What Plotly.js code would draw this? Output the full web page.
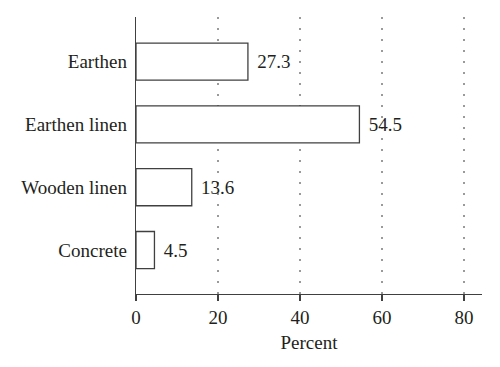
<!DOCTYPE html>
<html>
<head>
<meta charset="utf-8">
<script src="https://cdn.plot.ly/plotly-3.0.1.min.js"></script>
<style>html,body{margin:0;padding:0;background:#fff;}#chart{width:500px;height:367px;}</style>
</head>
<body>
<div id="chart"></div>
<script>
var categories = ["Concrete", "Wooden linen", "Earthen linen", "Earthen"];
var percents = [4.5, 13.6, 54.5, 27.3];
var valueLabels = ["4.5", "13.6", "54.5", "27.3"];
var xTicks = [0, 20, 40, 60, 80];

var font = {family: "Liberation Serif, DejaVu Serif, serif", size: 19, color: "#231f20"};

var trace = {
  type: "bar",
  orientation: "h",
  y: categories,
  x: percents,
  text: valueLabels.map(function(s){ return "\u2004" + s; }),
  textposition: "outside",
  textfont: font,
  cliponaxis: false,
  width: 0.59,
  marker: {color: "#ffffff", line: {color: "#404040", width: 1.3}},
  hoverinfo: "none"
};

var layout = {
  width: 500, height: 367,
  margin: {l: 136, r: 18, t: 17, b: 73},
  paper_bgcolor: "#fff", plot_bgcolor: "#fff",
  font: font,
  showlegend: false,
  xaxis: {
    range: [0, 84.4],
    tickvals: xTicks,
    ticktext: xTicks.map(String),
    ticks: "outside", ticklen: 6, tickwidth: 1.3, tickcolor: "#404040",
    showline: true, linecolor: "#404040", linewidth: 1.3,
    showgrid: true, gridcolor: "#9a9a9a", gridwidth: 1.3, griddash: "1.5px,9.5px",
    zeroline: false,
    tickfont: font,
    title: {text: "Percent", font: font, standoff: 8}
  },
  yaxis: {
    type: "category",
    range: [-0.70, 3.71],
    showline: true, linecolor: "#404040", linewidth: 1.3,
    ticks: "", showgrid: false, zeroline: false,
    tickfont: font,
    ticklabelstandoff: 4
  }
};

Plotly.newPlot("chart", [trace], layout, {displayModeBar: false, staticPlot: true});
</script>
</body>
</html>
